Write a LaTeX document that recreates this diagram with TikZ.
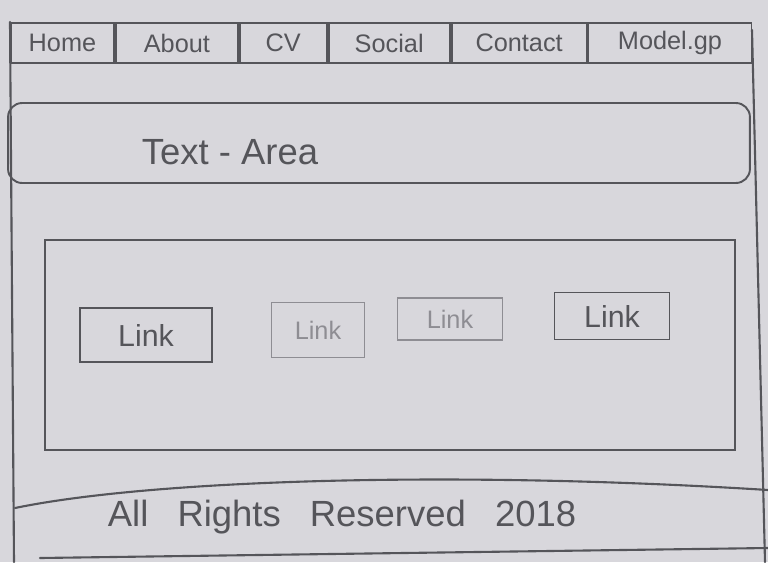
\documentclass[tikz,border=0pt]{standalone}
\usepackage{fontspec}
\setmainfont{Liberation Sans}
\usetikzlibrary{positioning,calc}
\definecolor{paper}{HTML}{D8D7DC}
\definecolor{pencil}{HTML}{55555A}
\definecolor{pencilLite}{HTML}{8E8D93}
\tikzset{
  sketch/.style={draw=pencil, line width=1.2pt, line join=round, line cap=round},
  navcell/.style={draw=pencil, line width=1.1pt, minimum height=0.8cm, inner sep=0pt,
                  font=\Large\color{pencil}},
  linkbox/.style={draw=pencil, line width=1.1pt, inner sep=0pt, font=\LARGE\color{pencil}},
  faint/.style={draw=pencilLite, font=\Large\color{pencilLite}},
  panel/.style={draw=pencil, line width=1.1pt, inner sep=0pt}
}

\begin{document}
\begin{tikzpicture}[x=0.02cm,y=-0.02cm]
  % paper
  \fill[paper] (0,0) rectangle (768,562);
  \useasboundingbox (0,0) rectangle (768,562);

  % outer page frame
  \coordinate (frameTL) at (10,22);
  \coordinate (frameBL) at (14,562);
  \coordinate (frameTR) at (752,30);
  \coordinate (frameBR) at (765,562);
  \draw[sketch] (frameTL) -- (frameBL);
  \draw[sketch] (frameTR) -- (frameBR);

  % navigation bar
  \node[navcell, minimum width=2.06cm, anchor=north west] (home) at (10,22) {Home};
  \node[navcell, minimum width=2.44cm, right=0pt of home] (about) {About};
  \node[navcell, minimum width=1.74cm, right=0pt of about] (cv) {CV};
  \node[navcell, minimum width=2.42cm, right=0pt of cv] (social) {Social};
  \node[navcell, minimum width=2.70cm, right=0pt of social] (contact) {Contact};
  \node[navcell, minimum width=3.26cm, right=0pt of contact] (model) {Model.gp};

  % text area
  \node[panel, rounded corners=8pt, minimum width=14.84cm, minimum height=1.6cm]
    (textarea) at (379,143) {};
  \node[font=\huge\color{pencil}] (tatext) at (230,152) {Text - Area};

  % content with links
  \node[panel, minimum width=13.8cm, minimum height=4.2cm] (content) at (390,345) {};
  \node[linkbox, minimum width=2.64cm, minimum height=1.08cm] (link1) at (146,335) {Link};
  \node[linkbox, faint, minimum width=1.86cm, minimum height=1.1cm] (link2) at (318,330) {Link};
  \node[linkbox, faint, minimum width=2.1cm, minimum height=0.84cm] (link3) at (450,319) {Link};
  \node[linkbox, minimum width=2.3cm, minimum height=0.94cm] (link4) at (612,316) {Link};

  % footer
  \coordinate (footL) at (15,508);
  \coordinate (footR) at (768,490);
  \coordinate (baseL) at (40,558);
  \coordinate (baseR) at (768,548);
  \draw[sketch] (footL) .. controls (150,480) and (450,470) .. (footR);
  \draw[sketch] (baseL) -- (baseR);
  \node[font=\huge\color{pencil}] (rights) at (342,517)
    {All\hspace{0.8em}Rights\hspace{0.8em}Reserved\hspace{0.8em}2018};
\end{tikzpicture}
\end{document}
